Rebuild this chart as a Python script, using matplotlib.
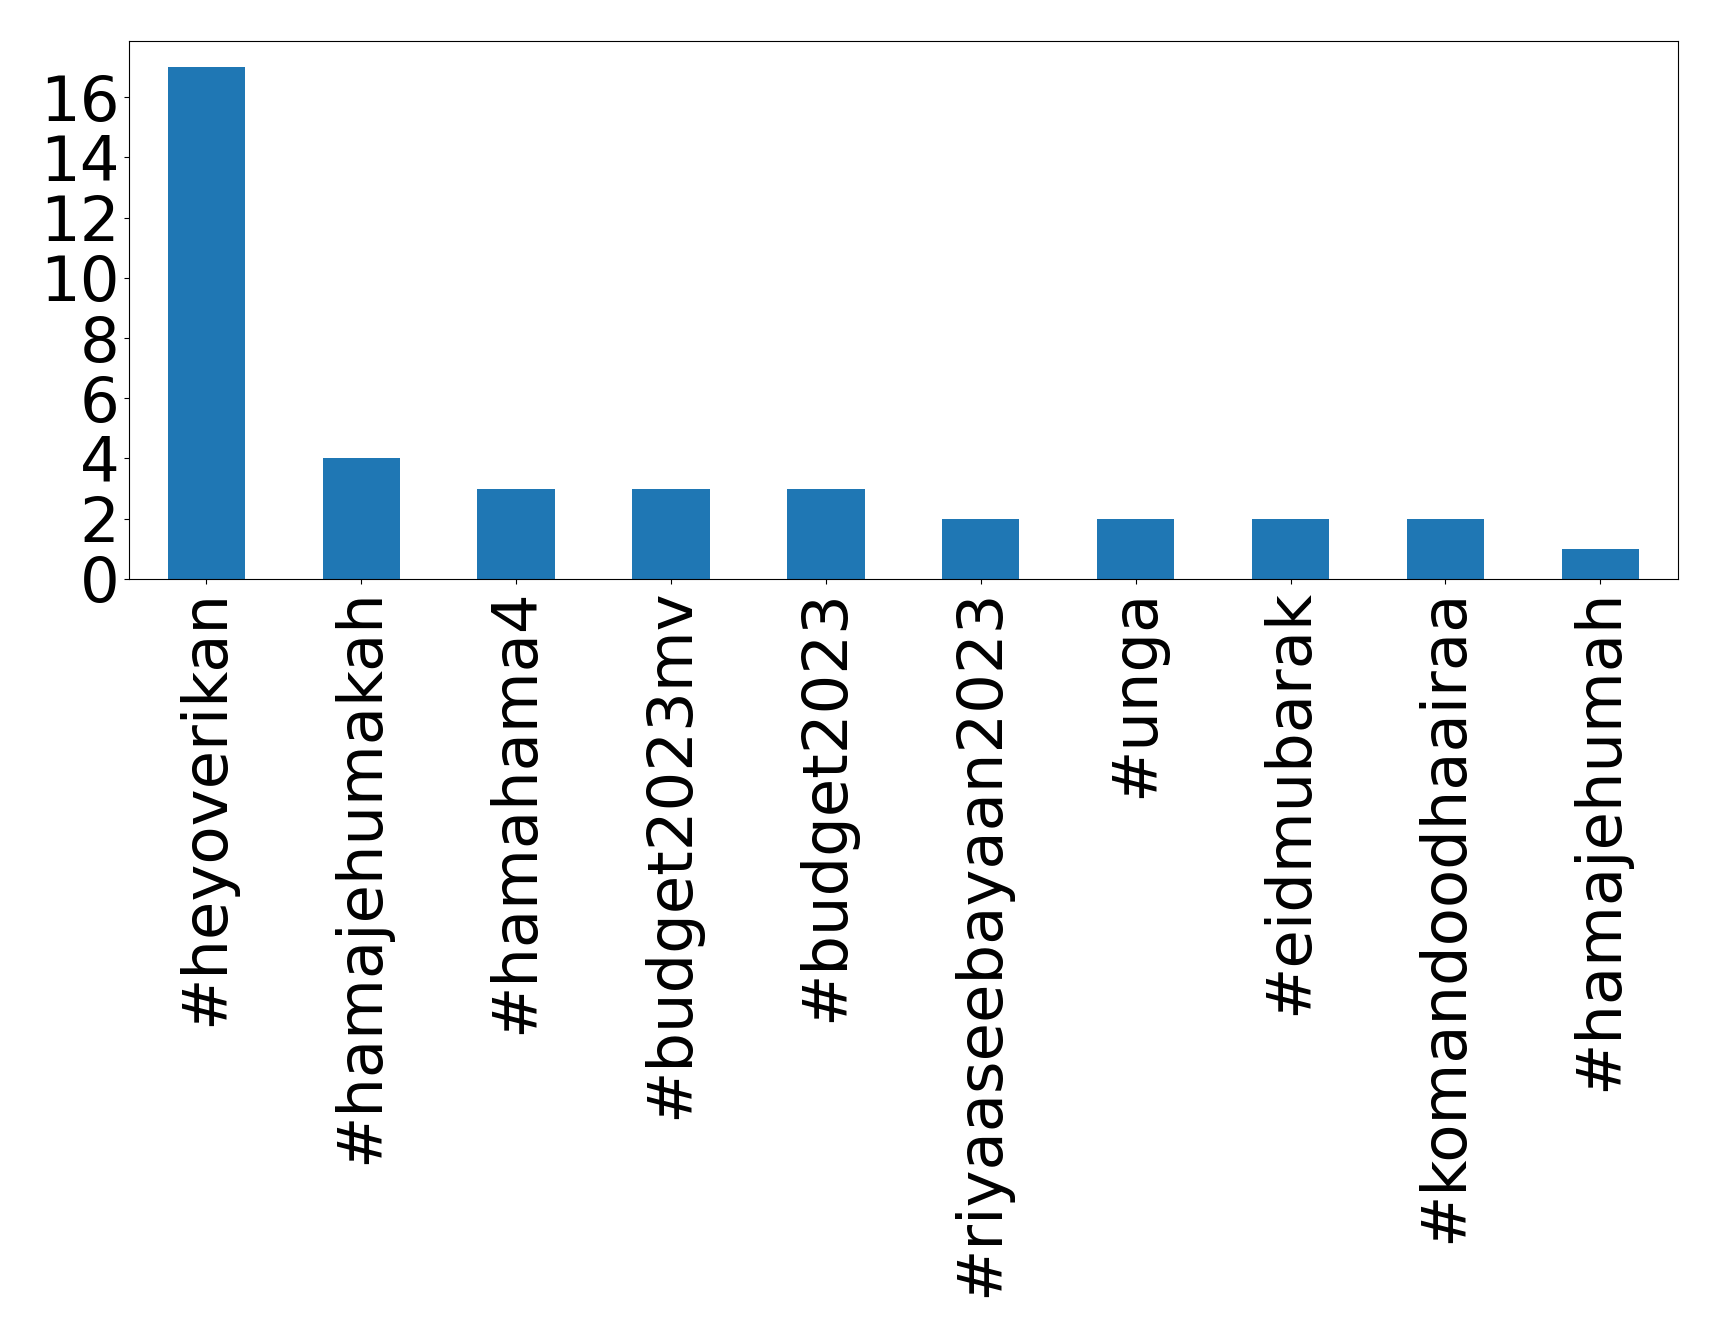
import matplotlib
matplotlib.use("Agg")
import matplotlib.pyplot as plt
import numpy as np

hashtags = ['#heyoverikan', '#hamajehumakah', '#hamahama4', '#budget2023mv',
            '#budget2023', '#riyaaseebayaan2023', '#unga', '#eidmubarak',
            '#komandoodhaairaa', '#hamajehumah']
counts = [17, 4, 3, 3, 3, 2, 2, 2, 2, 1]

fig = plt.figure(figsize=(17.19, 13.37), dpi=100)
ax = fig.add_axes([0.075, 0.567, 0.901, 0.402])

x = np.arange(len(hashtags))
ax.bar(x, counts, width=0.5, color='#1f77b4')
ax.set_xlim(-0.5, len(hashtags) - 0.5)
ax.set_xticks(x)
ax.set_xticklabels(hashtags, rotation=90)
ax.set_yticks(range(0, 17, 2))
ax.tick_params(axis='both', labelsize=45)

fig.savefig('out.png', dpi=100)
